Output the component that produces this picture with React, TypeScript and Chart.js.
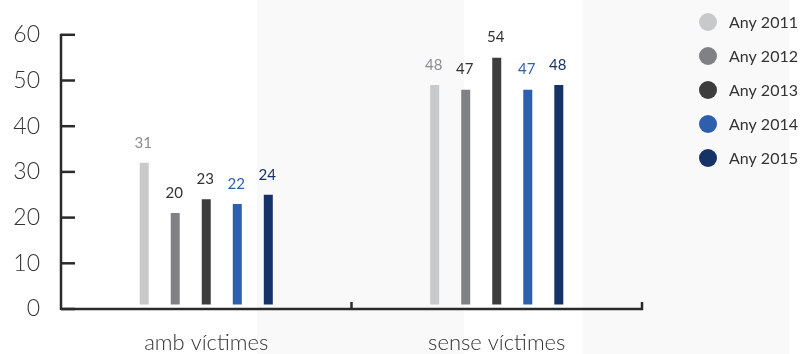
import { useEffect, useRef } from "react";
import { Chart, registerables } from "chart.js";

Chart.register(...registerables);

const categories = ["amb víctimes", "sense víctimes"];
const seriesNames = ["Any 2011", "Any 2012", "Any 2013", "Any 2014", "Any 2015"];
const values2011 = [31, 48];
const values2012 = [20, 47];
const values2013 = [23, 54];
const values2014 = [22, 47];
const values2015 = [24, 48];
const yTicks = [0, 10, 20, 30, 40, 50, 60];

const barColors = ["#c8c9cb", "#808184", "#3d3d3d", "#2d5fad", "#163266"];
const labelColors = ["#8c8d90", "#333333", "#333333", "#2d5fad", "#163266"];

const FONT = "Lato, 'Open Sans', sans-serif";
const INK = "#2a2a2a";

// Axis lines, inward y ticks and upward x ticks at category boundaries
const axesPlugin = {
  id: "axesDraw",
  afterDatasetsDraw(chart: any) {
    const { ctx, chartArea, scales } = chart;
    const y = scales.y;
    const x = scales.x;
    ctx.save();
    ctx.strokeStyle = INK;
    ctx.lineWidth = 2.5;
    ctx.lineCap = "butt";
    const bottom = y.getPixelForValue(0);
    // y axis line
    ctx.beginPath();
    ctx.moveTo(chartArea.left, y.getPixelForValue(60) - 1);
    ctx.lineTo(chartArea.left, bottom + 1);
    ctx.stroke();
    // x axis line
    ctx.beginPath();
    ctx.moveTo(chartArea.left, bottom);
    ctx.lineTo(chartArea.right + 1, bottom);
    ctx.stroke();
    // y ticks pointing into the plot
    yTicks.forEach((v) => {
      const py = y.getPixelForValue(v);
      ctx.beginPath();
      ctx.moveTo(chartArea.left, py);
      ctx.lineTo(chartArea.left + 14, py);
      ctx.stroke();
    });
    // x ticks at the right edge of each category
    const half = (x.getPixelForValue(1) - x.getPixelForValue(0)) / 2;
    categories.forEach((_, i) => {
      const px = x.getPixelForValue(i) + half;
      ctx.beginPath();
      ctx.moveTo(px, bottom + 1);
      ctx.lineTo(px, bottom - 7);
      ctx.stroke();
    });
    ctx.restore();
  },
};

// Value labels above each bar
const valueLabelPlugin = {
  id: "valueLabels",
  afterDatasetsDraw(chart: any) {
    const { ctx } = chart;
    ctx.save();
    ctx.font = `400 15px ${FONT}`;
    ctx.textAlign = "center";
    ctx.textBaseline = "middle";
    chart.data.datasets.forEach((ds: any, di: number) => {
      const meta = chart.getDatasetMeta(di);
      ctx.fillStyle = labelColors[di];
      meta.data.forEach((el: any, i: number) => {
        ctx.fillText(String(ds.data[i]), el.x - 1, el.y - 20);
      });
    });
    ctx.restore();
  },
};

// Round-marker legend to the right of the plot
const legendPlugin = {
  id: "sideLegend",
  afterDraw(chart: any) {
    const { ctx, chartArea } = chart;
    ctx.save();
    ctx.font = `400 16px ${FONT}`;
    ctx.textAlign = "left";
    ctx.textBaseline = "middle";
    chart.data.datasets.forEach((ds: any, i: number) => {
      const cy = 22 + i * 34;
      const cx = chartArea.right + 66;
      ctx.fillStyle = ds.backgroundColor;
      ctx.beginPath();
      ctx.arc(cx, cy, 9, 0, Math.PI * 2);
      ctx.fill();
      ctx.fillStyle = "#333333";
      ctx.fillText(ds.label, cx + 21, cy + 1);
    });
    ctx.restore();
  },
};

export default function App() {
  const canvasRef = useRef<HTMLCanvasElement | null>(null);

  useEffect(() => {
    const canvas = canvasRef.current;
    if (!canvas) return;
    const seriesValues = [values2011, values2012, values2013, values2014, values2015];
    const chart = new Chart(canvas, {
      type: "bar",
      data: {
        labels: categories,
        datasets: seriesNames.map((name, i) => ({
          label: name,
          data: seriesValues[i],
          backgroundColor: barColors[i],
          yAxisID: "yb",
          barPercentage: 0.29,
          categoryPercentage: 0.534,
        })),
      },
      options: {
        animation: false,
        responsive: true,
        maintainAspectRatio: false,
        layout: { padding: { top: 31, right: 159, left: 0, bottom: 0 } },
        plugins: {
          legend: { display: false },
          tooltip: { enabled: false },
        },
        scales: {
          x: {
            grid: { display: false, drawTicks: false },
            border: { display: false },
            ticks: {
              color: "#333333",
              font: { family: FONT, size: 22, weight: "300" },
              padding: 21,
            },
            afterFit: (scale: any) => {
              scale.height = 45;
            },
          },
          y: {
            min: 0,
            max: 60,
            grid: { display: false, drawTicks: false },
            border: { display: false },
            ticks: {
              stepSize: 10,
              color: "#333333",
              padding: 21,
              font: { family: FONT, size: 23, weight: "300" },
            },
            afterFit: (scale: any) => {
              scale.width = 61;
            },
          },
          yb: {
            min: -1,
            max: 59,
            display: false,
          },
        },
      },
      plugins: [axesPlugin, valueLabelPlugin, legendPlugin],
    });
    return () => chart.destroy();
  }, []);

  return (
    <div
      style={{
        position: "fixed",
        left: 0,
        top: 0,
        width: 801,
        height: 354,
        background:
          "linear-gradient(to right, #ffffff 0px, #ffffff 257px, #f9f9f9 257px, #f9f9f9 464px, #ffffff 464px, #ffffff 583px, #f9f9f9 583px, #f9f9f9 789px, #ffffff 789px)",
      }}
    >
      <canvas ref={canvasRef} />
    </div>
  );
}
